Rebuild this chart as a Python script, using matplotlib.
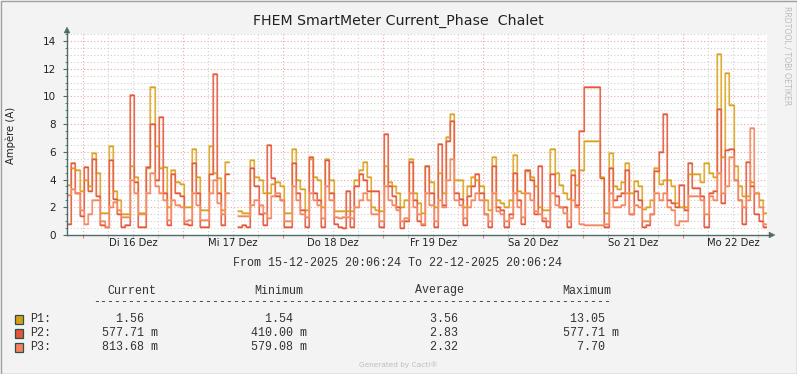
import numpy as np
import matplotlib
matplotlib.use("Agg")
import matplotlib.pyplot as plt
from matplotlib.patches import Rectangle, Polygon
from matplotlib.lines import Line2D

# ---------------- data (hourly, start 15-12-2025 20:06) ----------------
nan = float("nan")
p1 = [3.6, 4.8, 4.7, 3.2, 4.0, 3.5, 5.9, 4.5, 1.6, 1.6, 6.4, 3.2, 2.5, 1.5, 1.5, 5.0, 4.2, 1.6, 1.6, 4.8,
      10.7, 6.4, 4.8, 4.9, 2.0, 4.7, 3.8, 3.7,
      2.0, 2.0, 6.2, 4.2, 1.8, 1.8, 6.4, 4.5, 4.1, 1.8, 5.3, nan, nan, 1.7, 1.6, 1.6, 5.4, 4.2, 4.0, 3.0,
      3.0, 3.7, 3.8, 3.5, 1.6, 1.6, 6.2, 4.0, 3.3,
      1.8, 5.5, 4.2, 4.0, 2.0, 5.5, 4.0, 1.7, 1.7, 1.7, 1.7, 1.7, 4.0, 4.7, 5.3, 4.2, 2.0, 1.8, 1.7, 5.0,
      3.8, 3.5, 3.0, 2.0, 2.5, 5.5, 3.0, 2.3,
      1.6, 5.0, 3.8, 2.0, 4.5, 3.0, 7.1, 8.7, 4.0, 4.0, 2.0, 3.5, 4.2, 4.0, 3.5, 2.5, 1.8, 5.6, 2.5, 2.3,
      2.0, 2.5, 5.8, 3.2, 3.0, 4.6, 4.2, 3.5,
      2.0, 1.8, 1.8, 6.2, 4.5, 3.6, 3.0, 2.6, 4.7, 3.6, 4.7, 6.8, 6.8, 6.8, 6.8, 4.2, 1.6, 5.9, 3.5, 3.3,
      3.8, 5.2, 3.0, 3.9, 3.5, 1.9, 2.0, 2.5, 4.8,
      3.7, 4.0, 4.0, 3.5, 2.3, 2.0, 2.0, 4.4, 4.4, 4.4, 3.8, 5.2, 4.5, 4.2, 13.05, 5.6, 11.7, 9.4, 5.0,
      3.5, 2.8, 2.8, 3.8, 3.0, 2.5, 1.56]
p2 = [0.8, 5.2, 3.0, 1.4, 4.9, 3.2, 5.5, 2.8, 0.7, 0.6, 5.4, 2.6, 1.5, 0.6, 0.7, 10.1, 3.8, 0.6, 0.6, 4.9,
      8.0, 4.0, 8.5, 3.0, 0.7, 4.4, 3.0, 2.8,
      0.8, 0.7, 5.2, 3.0, 0.6, 0.6, 4.4, 11.6, 3.0, 0.7, 4.4, nan, nan, 0.6, 0.7, 0.6, 4.8, 3.5, 1.5, 0.7,
      6.5, 4.1, 2.8, 2.5, 0.6, 0.6, 5.2, 3.0, 1.8,
      0.6, 5.6, 3.0, 2.5, 0.6, 5.4, 3.0, 0.8, 0.6, 0.5, 3.2, 0.6, 3.5, 4.4, 4.0, 3.2, 3.2, 3.2, 0.6, 7.3,
      3.5, 2.8, 2.0, 0.5, 1.0, 5.3, 2.5, 1.0,
      0.7, 5.0, 3.0, 0.6, 6.6, 2.2, 6.8, 8.2, 3.0, 2.6, 0.7, 2.8, 3.5, 4.4, 3.0, 1.5, 0.6, 5.0, 2.0, 1.8,
      0.6, 1.5, 4.5, 2.5, 0.8, 4.7, 4.0, 1.5,
      5.0, 1.0, 0.6, 4.4, 2.8, 2.0, 2.0, 0.6, 4.3, 2.2, 7.5, 10.7, 10.7, 10.7, 10.7, 4.1, 0.6, 4.8, 2.5,
      2.8, 3.0, 4.7, 1.5, 3.2, 2.5, 0.6, 0.7, 1.5, 4.6,
      6.0, 8.7, 2.5, 2.3, 2.0, 3.6, 1.8, 5.2, 3.4, 3.4, 2.8, 0.6, 3.0, 3.2, 9.1, 2.3, 6.1, 6.2, 4.0, 2.5,
      0.8, 5.3, 3.5, 1.5, 1.0, 0.58]
p3 = [2.9, 3.3, 3.0, 1.8, 0.8, 1.5, 2.5, 2.5, 1.0, 0.6, 2.0, 2.4, 1.8, 1.3, 1.3, 4.0, 3.0, 1.5, 1.5, 3.0,
      4.5, 3.5, 3.0, 2.5, 1.1, 2.5, 2.2, 2.0,
      1.0, 1.1, 3.0, 2.2, 1.1, 1.1, 3.0, 4.0, 2.3, 1.5, 3.0, nan, nan, 1.4, 1.4, 1.4, 2.2, 2.5, 2.2, 1.6,
      1.2, 2.8, 3.0, 2.5, 1.0, 1.0, 3.5, 2.5, 1.5,
      1.3, 3.0, 2.5, 2.2, 1.2, 3.5, 2.5, 1.3, 1.2, 1.3, 1.3, 1.2, 2.0, 2.5, 3.0, 2.5, 1.5, 1.5, 1.0, 3.5,
      2.5, 2.2, 1.8, 1.0, 1.2, 3.0, 2.0, 1.5,
      0.8, 3.0, 2.2, 1.0, 2.5, 2.0, 4.0, 5.5, 2.5, 2.2, 1.2, 2.0, 2.5, 3.0, 2.5, 1.5, 1.0, 3.0, 1.7, 1.5,
      1.0, 1.2, 3.0, 2.0, 1.3, 3.0, 2.5, 1.7,
      1.5, 1.2, 1.0, 3.0, 2.2, 2.0, 1.6, 1.0, 2.5, 2.0, 0.8, 0.7, 0.7, 0.7, 0.7, 0.7, 0.8, 3.0, 2.0, 2.0,
      2.2, 3.0, 1.5, 2.2, 2.0, 1.0, 1.0, 1.5, 3.0,
      2.5, 3.0, 2.0, 1.8, 0.7, 1.0, 1.0, 2.8, 2.8, 2.8, 2.5, 1.5, 2.8, 2.5, 4.5, 3.0, 3.5, 5.6, 4.0, 2.5,
      2.0, 2.5, 7.7, 3.0, 2.0, 0.81]

day_labels = ["Di 16 Dez", "Mi 17 Dez", "Do 18 Dez", "Fr 19 Dez", "Sa 20 Dez", "So 21 Dez", "Mo 22 Dez"]
first_midnight = 3.893  # hours after start
names = ["P1:", "P2:", "P3:"]
cur = [("1.56", " "), ("577.71", "m"), ("813.68", "m")]
mins = [("1.54", " "), ("410.00", "m"), ("579.08", "m")]
avgs = [("3.56", " "), ("2.83", " "), ("2.32", " ")]
maxs = [("13.05", " "), ("577.71", "m"), ("7.70", " ")]

# ---------------- figure ----------------
W, H = 797, 374
fig = plt.figure(figsize=(W / 100, H / 100), dpi=100)
fig.patch.set_facecolor("#F3F3F3")

def fx(px):
    return px / W

def fy(py):
    return 1 - py / H

L, R, T, B = 67, 767, 34, 235
ax = fig.add_axes([fx(L), fy(B), (R - L) / W, (B - T) / H])
ax.set_facecolor("white")
ax.set_xlim(0, 168)
ax.set_ylim(0, 14.5)
for s in ax.spines.values():
    s.set_visible(False)

# grid
dot = (0, (1, 2))
for v in np.arange(0.5, 14.6, 0.5):
    if abs(v % 2) < 1e-9:
        ax.axhline(v, color="#EFA3A3", lw=0.8, ls=dot, zorder=1)
    else:
        ax.axhline(v, color="#CFCFCF", lw=0.8, ls=dot, zorder=1)
for k in range(0, 28):
    t = first_midnight + 6 * k
    if t > 168:
        break
    if k % 4 == 0:
        ax.axvline(t, color="#EFA3A3", lw=0.8, ls=dot, zorder=1)
    else:
        ax.axvline(t, color="#CFCFCF", lw=0.8, ls=dot, zorder=1)

# series
x = np.arange(len(p1) + 1)
series = [(p1, "#D9A21C", "#E9C670"), (p2, "#E4553A", "#F09580"), (p3, "#F4855E", "#F8AE92")]
for vals, col, light in series:
    v = np.array(vals, dtype=float)
    y = np.append(v, v[-1])
    ax.plot(x, y, drawstyle="steps-post", color=light, lw=1.1, zorder=3)
    ax.plot(x, y, drawstyle="steps-post", color=col, lw=0.9, alpha=0.75, zorder=3)
    ax.hlines(v, x[:-1], x[1:], color=col, lw=1.0, zorder=4)

# ticks
ax.set_yticks(np.arange(0, 15, 2))
ax.set_yticks(np.arange(0, 14.6, 0.5), minor=True)
ax.set_yticklabels([str(int(t)) for t in np.arange(0, 15, 2)])
ax.tick_params(axis="y", which="major", length=3, width=0.8, color="#4E6B66",
               labelsize=7.5, labelcolor="#222222", pad=5)
ax.tick_params(axis="y", which="minor", length=1.5, width=0.6, color="#4E6B66")
mids = [first_midnight + 24 * k for k in range(7)]
ax.set_xticks(mids)
ax.set_xticklabels([])
ax.set_xticks([first_midnight + 6 * k for k in range(28) if first_midnight + 6 * k <= 168 and k % 4], minor=True)
ax.tick_params(axis="x", which="major", length=2, width=0.8, color="#E08080")
ax.tick_params(axis="x", which="minor", length=2, width=0.6, color="#BBBBBB")
for k, lab in enumerate(day_labels):
    ax.text(first_midnight + 12 + 24 * k, -0.6, lab, ha="center", va="center",
            fontsize=7.2, color="#222222", clip_on=False)

# axis lines with arrows
axcol = "#4E6B66"
fig.add_artist(Line2D([fx(L), fx(L)], [fy(B), fy(30)], color=axcol, lw=1.0))
fig.add_artist(Line2D([fx(L), fx(771)], [fy(B), fy(B)], color=axcol, lw=1.0))
fig.add_artist(Polygon([[fx(64), fy(33)], [fx(70), fy(33)], [fx(L), fy(27)]], closed=True,
                       facecolor=axcol, edgecolor=axcol, lw=0.3, transform=fig.transFigure))
fig.add_artist(Polygon([[fx(769), fy(232)], [fx(769), fy(238)], [fx(775), fy(B)]], closed=True,
                       facecolor=axcol, edgecolor=axcol, lw=0.3, transform=fig.transFigure))

# title and labels
fig.text(fx(398), fy(21), "FHEM SmartMeter Current_Phase  Chalet", ha="center", va="center",
         fontsize=10.2, color="#222222")
fig.text(fx(11), fy(135), "Ampère (A)", rotation=90, ha="center", va="center",
         fontsize=7.3, color="#222222")
fig.text(fx(787), fy(56), "RRDTOOL / TOBI OETIKER", rotation=270, ha="center", va="center",
         fontsize=5.6, color="#BBBBBB")
fig.text(fx(398), fy(365), "Generated by Cacti®", ha="center", va="center",
         fontsize=5.3, color="#BDBDBD")

mono = "Liberation Mono"
ms = 8.4
tc = "#333333"
fig.text(fx(397.5), fy(263), "From 15-12-2025 20:06:24 To 22-12-2025 20:06:24", ha="center",
         va="center", fontsize=ms, family=mono, color=tc)
for txt, px in [("Current", 107), ("Minimum", 254), ("Average", 415), ("Maximum", 562)]:
    fig.text(fx(px), fy(290.5), txt, ha="left", va="center", fontsize=ms, family=mono, color=tc)
fig.text(fx(93), fy(302), "-" * 74, ha="left", va="center", fontsize=ms, family=mono, color=tc)

colors_box = ["#D4A017", "#E4553A", "#F4845F"]
rows = [319, 333, 347]
for i in range(3):
    yy = rows[i]
    fig.add_artist(Rectangle((fx(15), fy(yy + 4.5)), 8 / W, 9 / H, transform=fig.transFigure,
                             facecolor=colors_box[i], edgecolor="#2F4F4F", lw=0.9))
    fig.text(fx(30), fy(yy), names[i], ha="left", va="center", fontsize=ms, family=mono, color=tc)
    for (num, unit), px in [(cur[i], 102), (mins[i], 251), (avgs[i], 416), (maxs[i], 563)]:
        fig.text(fx(px), fy(yy), f"{num:>6} {unit}", ha="left", va="center", fontsize=ms,
                 family=mono, color=tc)

# outer border
fig.add_artist(Rectangle((0.5 / W, 0.5 / H), (W - 1) / W, (H - 1) / H, transform=fig.transFigure,
                         facecolor="none", edgecolor="#A0A0A0", lw=1.0))

fig.savefig("out.png", dpi=100, facecolor=fig.get_facecolor())
